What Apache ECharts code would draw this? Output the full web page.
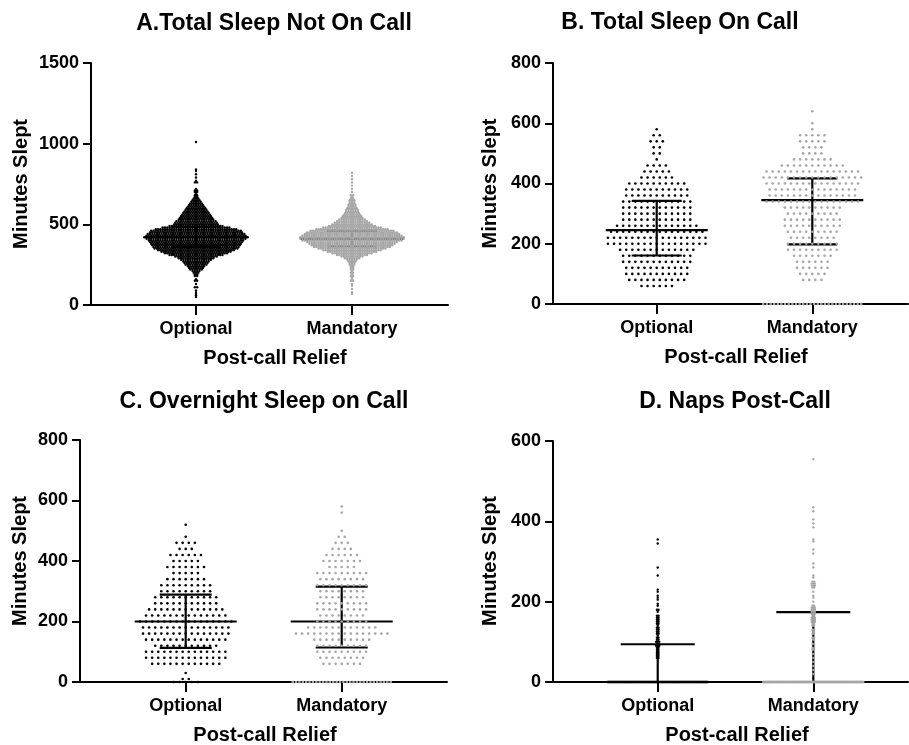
<!DOCTYPE html>
<html><head><meta charset="utf-8">
<script src="https://cdn.jsdelivr.net/npm/echarts@6/dist/echarts.min.js"></script>
<style>html,body{margin:0;padding:0;background:#fff}#c{width:909px;height:745px}</style>
</head><body><div id="c"></div>
<script>
// ---------- text ----------
const categories = ['Optional', 'Mandatory'];
const panelTitles = ['A.Total Sleep Not On Call', 'B. Total Sleep On Call', 'C. Overnight Sleep on Call', 'D. Naps Post-Call'];
const xAxisTitle = 'Post-call Relief';
const yAxisTitle = 'Minutes Slept';
const yMax = [1500, 800, 800, 600];
const yInterval = [500, 200, 200, 200];

// ---------- A. Total sleep not on call (value -> number of nights) ----------
const aOptionalValues = [1010,840,830,810,790,770,760,720,710,700,690,680,670,660,650,640,630,620,610,600,590,580,570,560,550,540,530,520,510,500,490,480,470,460,450,440,430,420,410,400,390,380,370,360,350,340,330,320,310,300,290,280,270,260,250,240,230,220,210,200,190,180,160,150,130,110,90,80,70,60,50];
const aOptionalCounts = [1,1,1,1,1,1,2,1,2,2,1,2,2,3,4,5,6,7,8,9,10,11,12,13,14,15,16,18,19,20,24,30,36,40,41,43,44,46,44,42,41,40,39,38,37,34,31,28,24,19,16,14,12,11,10,8,7,6,4,3,2,2,1,2,1,2,1,1,1,1,1];
const aMandatoryValues = [820,800,780,760,740,720,700,680,670,660,650,640,630,620,610,600,590,580,570,560,550,540,530,520,510,500,490,480,470,460,450,440,430,420,410,400,390,380,370,360,350,340,330,320,310,300,290,280,270,260,250,240,230,220,210,200,190,180,170,160,150,130,120,100,80,70];
const aMandatoryCounts = [1,1,1,1,1,1,1,2,1,2,3,3,3,4,4,5,6,6,7,8,9,10,12,14,16,18,21,26,32,37,40,42,44,46,46,44,40,38,36,34,30,26,22,18,14,10,7,5,4,3,3,2,2,2,1,2,1,2,1,1,2,1,1,1,1,1];
const aCenter = [422, 412], aLower = [360, 365], aUpper = [485, 460];

// ---------- B. Total sleep on call ----------
const bOptionalValues = [580,560,540,520,500,480,460,440,420,400,380,360,340,320,300,280,260,240,220,200,180,160,140,120,100,80,60];
const bOptionalCounts = [1,2,3,2,2,1,4,5,6,10,11,11,12,12,12,12,14,16,17,17,13,12,12,11,11,10,6];
const bMandatoryValues = [640,600,580,560,540,520,500,480,460,440,420,400,380,360,340,320,300,280,260,240,220,200,180,160,140,120,100,80,0];
const bMandatoryCounts = [1,1,1,5,5,4,4,7,11,16,17,16,15,15,16,10,9,10,10,9,8,9,9,7,6,6,5,4,28];
const bCenter = [245, 345], bLower = [161, 198], bUpper = [342, 417];

// ---------- C. Overnight sleep on call ----------
const cOptionalValues = [520,480,460,440,420,400,380,360,340,320,300,280,260,240,220,200,180,160,140,120,100,80,60,30,10,0];
const cOptionalCounts = [1,1,4,3,6,5,7,5,7,9,9,11,11,13,14,16,15,15,14,11,14,14,12,1,2,5];
const cMandatoryValues = [580,560,500,480,460,440,420,400,380,360,340,320,300,280,260,240,220,200,180,160,140,120,100,80,60,0];
const cMandatoryCounts = [1,1,1,2,3,4,6,7,5,9,8,9,8,8,9,9,8,9,12,16,10,9,9,8,7,30];
const cCenter = [200, 200], cLower = [113, 114], cUpper = [289, 315];

// ---------- D. Naps post-call ----------
const dOptionalValues = [355,345,285,265,230,225,215,210,205,195,190,180,175,165,160,155,150,145,140,135,130,125,120,115,110,105,100,95,90,85,80,75,70,65,60,0];
const dOptionalCounts = [1,1,1,1,1,1,1,1,1,1,1,2,1,2,2,2,2,2,1,2,2,2,2,1,2,2,3,2,3,2,2,2,2,2,2,150];
const dMandatoryValues = [555,435,425,405,395,385,355,350,330,320,295,285,265,260,250,245,240,235,225,215,210,200,190,185,180,175,170,165,160,155,150,145,140,130,125,120,110,105,95,85,80,70,60,50,40,30,20,0];
const dMandatoryCounts = [1,1,1,1,1,1,1,1,1,1,1,1,1,1,2,3,3,2,1,1,1,1,2,3,3,3,3,2,3,3,3,2,2,2,1,2,2,1,2,2,2,1,1,1,1,1,1,200];
const dCenter = [0, 0], dLower = [0, 0], dUpper = [94, 174];

// ---------- layout / style ----------
const FONT = 'Liberation Sans';
const BLACK = '#000000', GRAY = '#a6a6a6';
const grids = [
  {left: 91, top: 63, width: 357, height: 242, xmin: 0.3269, xmax: 2.6154},
  {left: 553, top: 63, width: 355, height: 241, xmin: 0.3335, xmax: 2.615},
  {left: 80, top: 440, width: 367, height: 242, xmin: 0.3224, xmax: 2.675},
  {left: 553, top: 441, width: 355, height: 241, xmin: 0.327, xmax: 2.6085}
];
const dotStyle = [
  {size: 2.4, spacing: 2.3, maxW: 105, meanHalf: 51, capHalf: 25},
  {size: 2.6, spacing: 6.1, maxW: 98, meanHalf: 51, capHalf: 25},
  {size: 2.6, spacing: 6.1, maxW: 98, meanHalf: 51, capHalf: 26},
  {size: 2.4, spacing: 1.6, maxW: 100, meanHalf: 51, capHalf: 37}
];
const panels = [
  {opt: [aOptionalValues, aOptionalCounts], man: [aMandatoryValues, aMandatoryCounts], c: aCenter, lo: aLower, hi: aUpper},
  {opt: [bOptionalValues, bOptionalCounts], man: [bMandatoryValues, bMandatoryCounts], c: bCenter, lo: bLower, hi: bUpper},
  {opt: [cOptionalValues, cOptionalCounts], man: [cMandatoryValues, cMandatoryCounts], c: cCenter, lo: cLower, hi: cUpper},
  {opt: [dOptionalValues, dOptionalCounts], man: [dMandatoryValues, dMandatoryCounts], c: dCenter, lo: dLower, hi: dUpper}
];
const titlePos = [[274, 24], [680, 23], [264, 402], [735, 402]];
const xNamePos = [[275, 358], [736, 357], [265, 735], [737, 735]];
const yNamePos = [[21, 184], [490, 183.5], [20, 561], [490, 561]];

// beeswarm-style row layout: points of one value are spread horizontally around the category
function swarm(cat, values, counts, st, unitPx) {
  const pts = [];
  values.forEach((v, i) => {
    const n = counts[i];
    let s = st.spacing;
    if (n > 1 && (n - 1) * s > st.maxW) s = st.maxW / (n - 1);
    for (let k = 0; k < n; k++) pts.push([cat + (k - (n - 1) / 2) * s / unitPx, v]);
  });
  return pts;
}

function barRenderer(meanHalf, capHalf) {
  return function (params, api) {
    const x = api.value(0);
    const pc = api.coord([x, api.value(1)]);
    const pl = api.coord([x, api.value(2)]);
    const ph = api.coord([x, api.value(3)]);
    const style = {stroke: BLACK, lineWidth: 2.2};
    return {type: 'group', children: [
      {type: 'line', shape: {x1: pl[0], y1: pl[1], x2: ph[0], y2: ph[1]}, style},
      {type: 'line', shape: {x1: pc[0] - meanHalf, y1: pc[1], x2: pc[0] + meanHalf, y2: pc[1]}, style},
      {type: 'line', shape: {x1: pl[0] - capHalf, y1: pl[1], x2: pl[0] + capHalf, y2: pl[1]}, style},
      {type: 'line', shape: {x1: ph[0] - capHalf, y1: ph[1], x2: ph[0] + capHalf, y2: ph[1]}, style}
    ]};
  };
}

const labelStyle = {color: BLACK, fontFamily: FONT, fontWeight: 'bold', fontSize: 18};
const axisLine = {show: true, lineStyle: {color: BLACK, width: 2}};

const option = {
  animation: false,
  backgroundColor: '#ffffff',
  grid: grids.map(g => ({left: g.left, top: g.top, width: g.width, height: g.height, containLabel: false})),
  xAxis: grids.map((g, i) => ({
    type: 'value', gridIndex: i, min: g.xmin, max: g.xmax,
    axisLine: axisLine,
    axisTick: {show: true, inside: false, length: 10, lineStyle: {color: BLACK, width: 2}, customValues: [1, 2]},
    axisLabel: Object.assign({margin: 15, customValues: [1, 2], formatter: v => categories[Math.round(v) - 1] || ''}, labelStyle),
    splitLine: {show: false}
  })),
  yAxis: grids.map((g, i) => ({
    type: 'value', gridIndex: i, min: 0, max: yMax[i], interval: yInterval[i],
    axisLine: axisLine,
    axisTick: {show: true, inside: false, length: 8, lineStyle: {color: BLACK, width: 2}},
    axisLabel: Object.assign({margin: 12, formatter: v => String(v)}, labelStyle),
    splitLine: {show: false}
  })),
  series: [],
  graphic: []
};

panels.forEach((p, i) => {
  const g = grids[i], st = dotStyle[i];
  const unitPx = g.width / (g.xmax - g.xmin);
  option.series.push({
    type: 'custom', xAxisIndex: i, yAxisIndex: i, z: 2, silent: true, clip: false,
    renderItem: barRenderer(st.meanHalf, st.capHalf),
    encode: {x: 0, y: [1, 2, 3]},
    data: [[1, p.c[0], p.lo[0], p.hi[0]], [2, p.c[1], p.lo[1], p.hi[1]]]
  });
  option.series.push({
    type: 'scatter', name: categories[0], xAxisIndex: i, yAxisIndex: i, z: 3, silent: true,
    symbol: 'circle', symbolSize: st.size, itemStyle: {color: BLACK, opacity: 1},
    data: swarm(1, p.opt[0], p.opt[1], st, unitPx)
  });
  option.series.push({
    type: 'scatter', name: categories[1], xAxisIndex: i, yAxisIndex: i, z: 3, silent: true,
    symbol: 'circle', symbolSize: st.size, itemStyle: {color: GRAY, opacity: 1},
    data: swarm(2, p.man[0], p.man[1], st, unitPx)
  });
  option.graphic.push({type: 'text', x: titlePos[i][0], y: titlePos[i][1], silent: true,
    style: {text: panelTitles[i], fontSize: 23, fontWeight: 'bold', fontFamily: FONT, fill: BLACK, align: 'center', verticalAlign: 'middle'}});
  option.graphic.push({type: 'text', x: xNamePos[i][0], y: xNamePos[i][1], silent: true,
    style: {text: xAxisTitle, fontSize: 20, fontWeight: 'bold', fontFamily: FONT, fill: BLACK, align: 'center', verticalAlign: 'middle'}});
  option.graphic.push({type: 'text', x: yNamePos[i][0], y: yNamePos[i][1], rotation: Math.PI / 2, silent: true,
    style: {text: yAxisTitle, fontSize: 20, fontWeight: 'bold', fontFamily: FONT, fill: BLACK, align: 'center', verticalAlign: 'middle'}});
});

const chart = echarts.init(document.getElementById('c'), null, {renderer: 'canvas'});
chart.setOption(option);
</script>
</body></html>
